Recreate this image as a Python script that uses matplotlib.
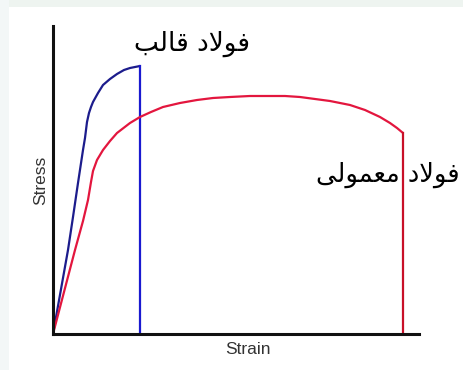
import matplotlib
matplotlib.use("Agg")
import matplotlib.pyplot as plt
from matplotlib.patches import Rectangle

# stress-strain curves (arbitrary units)
tool_strain = [0, 15, 20, 25, 30, 32, 34, 36, 38, 40, 45, 50, 57, 64, 71, 77, 87]
tool_stress = [0, 84, 117, 151, 184, 196, 212, 221, 227, 232, 241, 249, 255, 260, 264, 266, 268]

mild_strain = [0, 22, 30, 35, 38, 40, 44, 50, 57, 64, 77, 87, 98, 110, 127, 144, 160, 177,
               197, 217, 232, 247, 262, 277, 297, 312, 327, 337, 344, 350]
mild_stress = [0, 84, 113, 134, 152, 163, 174, 184, 193, 201, 211, 217, 222, 227, 231, 234, 236, 237,
               238, 238, 238, 237, 235, 233, 229, 224, 217, 211, 206, 201]

tool_label = "فولاد قالب"
mild_label = "فولاد معمولی"

# minimal arabic shaping: isolated, final, initial, medial presentation forms
FORMS = {
    "ف": ("\uFED1", "\uFED2", "\uFED3", "\uFED4"),
    "و": ("\uFEED", "\uFEEE", None, None),
    "ل": ("\uFEDD", "\uFEDE", "\uFEDF", "\uFEE0"),
    "ا": ("\uFE8D", "\uFE8E", None, None),
    "د": ("\uFEA9", "\uFEAA", None, None),
    "ق": ("\uFED5", "\uFED6", "\uFED7", "\uFED8"),
    "ب": ("\uFE8F", "\uFE90", "\uFE91", "\uFE92"),
    "م": ("\uFEE1", "\uFEE2", "\uFEE3", "\uFEE4"),
    "ع": ("\uFEC9", "\uFECA", "\uFECB", "\uFECC"),
    "ی": ("\uFBFC", "\uFBFD", "\uFBFE", "\uFBFF"),
    "لا": ("\uFEFB", "\uFEFC", None, None),
}


def shape(text):
    tokens = []
    i = 0
    while i < len(text):
        if text[i] == "ل" and text[i + 1:i + 2] == "ا":
            tokens.append("لا")
            i += 2
        else:
            tokens.append(text[i])
            i += 1
    out = []
    for k, t in enumerate(tokens):
        f = FORMS.get(t)
        if f is None:
            out.append(t)
            continue
        prev = tokens[k - 1] if k > 0 else None
        nxt = tokens[k + 1] if k + 1 < len(tokens) else None
        jp = prev in FORMS and FORMS[prev][2] is not None
        jn = nxt in FORMS and f[2] is not None
        idx = {(False, False): 0, (True, False): 1, (False, True): 2, (True, True): 3}[(jp, jn)]
        out.append(f[idx])
    return "".join(reversed(out))


fig = plt.figure(figsize=(4.63, 3.70), dpi=100)
fig.patch.set_facecolor("white")
# light frame along the top and left edges
fig.patches.append(Rectangle((0, 1 - 7 / 370), 1, 7 / 370, transform=fig.transFigure,
                             facecolor="#eef4f0", edgecolor="none", zorder=0))
fig.patches.append(Rectangle((0, 0), 9 / 463, 1, transform=fig.transFigure,
                             facecolor="#f3f7f7", edgecolor="none", zorder=0))

ax = fig.add_axes([53 / 463, 36 / 370, 366 / 463, 308 / 370])
ax.set_facecolor("none")

# tool steel
ax.plot(tool_strain, tool_stress, color="#1c1c8c", linewidth=1.6,
        solid_joinstyle="round", solid_capstyle="round")
ax.plot([tool_strain[-1], tool_strain[-1]], [tool_stress[-1], 0], color="#1a1ad0", linewidth=1.6)

# mild steel
ax.plot(mild_strain, mild_stress, color="#e3163e", linewidth=1.6,
        solid_joinstyle="round", solid_capstyle="round")
ax.plot([mild_strain[-1], mild_strain[-1]], [mild_stress[-1], 0], color="#c81028", linewidth=1.6)

ax.set_xlim(0, 366)
ax.set_ylim(0, 308)
ax.set_xticks([])
ax.set_yticks([])
for side in ("top", "right"):
    ax.spines[side].set_visible(False)
for side in ("left", "bottom"):
    ax.spines[side].set_linewidth(2.2)
    ax.spines[side].set_color("#111111")

ax.set_xlabel("Strain", family="Liberation Sans", fontsize=12.5, color="#333333")
ax.xaxis.set_label_coords(0.533, -0.025)
ax.set_ylabel("Stress", family="Liberation Sans", fontsize=12.5, color="#333333")
ax.yaxis.set_label_coords(-0.012, 0.5)

ax.text(139, 290, shape(tool_label), ha="center", va="center", fontsize=19,
        family=["DejaVu Sans"], color="#000000", clip_on=False)
ax.text(407, 159, shape(mild_label), ha="right", va="center", fontsize=18.5,
        family=["DejaVu Sans"], color="#000000", clip_on=False)

fig.savefig("out.png", dpi=100)
